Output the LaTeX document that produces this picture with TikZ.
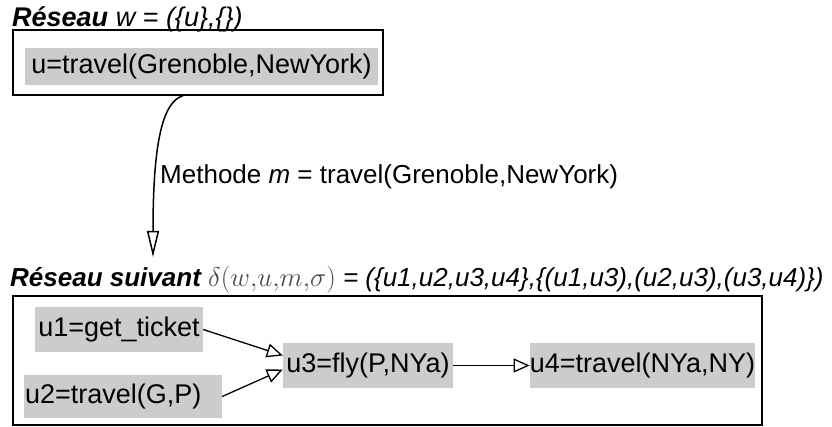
\documentclass[tikz,border=0pt]{standalone}
\usepackage{fix-cm}
\usepackage{fontspec}
\setmainfont{Liberation Sans}
\usetikzlibrary{arrows.meta}

\begin{document}
\begin{tikzpicture}[x=1pt, y=-1pt,
  frame/.style={draw, line width=1.3pt, inner sep=0pt},
  unode/.style={fill=gray!40, inner sep=0pt, font=\fontsize{27}{32}\selectfont,
                text height=20pt, text depth=6pt},
  title/.style={anchor=base west, inner sep=0pt, font=\fontsize{27}{32}\selectfont\itshape},
  arr/.style={-{Triangle[open, length=16pt, width=14pt, line width=1.3pt]}, line width=1.3pt}]
\useasboundingbox (0,0) rectangle (832,427);
% network w
\node[frame, minimum width=370pt, minimum height=65pt] (net1) at (198,62.5) {};
\node[title] (t1) at (12,27) {\textbf{Réseau} w = (\{u\},\{\})};
\node[unode, minimum width=353pt, minimum height=37pt] (u) at (201.5,66.5) {u=travel(Grenoble,NewYork)};
% method
\coordinate (tip) at (153,257);
\node[anchor=base west, inner sep=0pt, font=\fontsize{26}{31}\selectfont] (meth) at (160,184)
  {Methode \textit{m} = travel(Grenoble,NewYork)};
\draw[line width=1.5pt, -{Triangle[open, length=26pt, width=12pt, line width=1.5pt]}]
  ([xshift=-15pt]net1.south) .. controls (163,102) and (153,140) .. (tip);
% next network
\node[title, font=\fontsize{26}{31}\selectfont\itshape] (t2) at (10,287) {\textbf{Réseau suivant}
  {\fontsize{27}{31}\selectfont\color{black!70}\underline{$\delta(w{,}u{,}m{,}\sigma)$}}
  = (\{u1,u2,u3,u4\},\{(u1,u3),(u2,u3),(u3,u4)\})};
\node[frame, minimum width=749pt, minimum height=129pt] (net2) at (387.5,360.5) {};
\node[unode, minimum width=168pt, minimum height=45pt] (u1) at (119,329.5) {u1=get\_ticket};
\node[unode, text width=196pt, inner xsep=1pt, align=left, minimum height=43pt] (u2) at (123,396.5) {u2=travel(G,P)};
\node[unode, minimum width=170pt, minimum height=45pt] (u3) at (368,365.5) {u3=fly(P,NYa)};
\node[unode, minimum width=225pt, minimum height=45pt] (u4) at (642.5,365.5) {u4=travel(NYa,NY)};
\draw[arr] (u1.east) -- ([yshift=10pt]u3.west);
\draw[arr] (u2.east) -- ([yshift=-4pt]u3.west);
\draw[arr] (u3.east) -- (u4.west);
\end{tikzpicture}
\end{document}
